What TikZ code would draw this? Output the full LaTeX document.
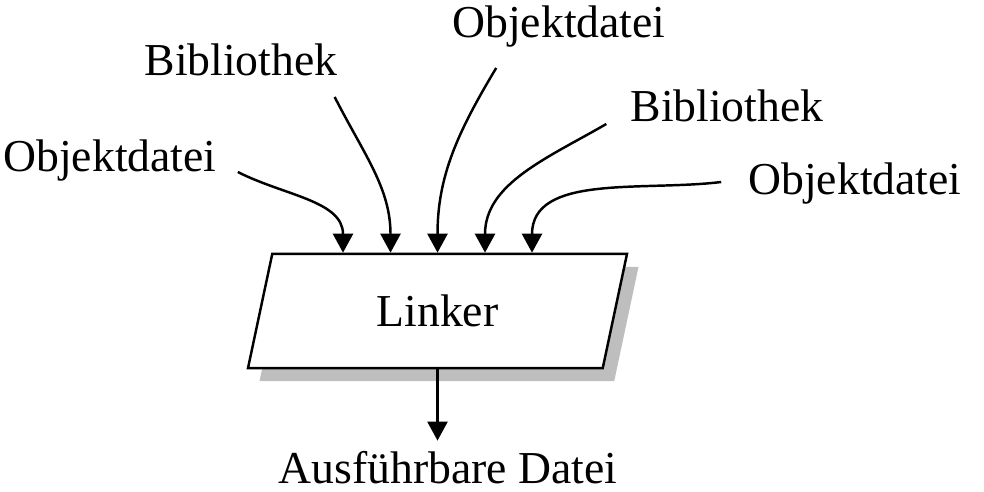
\documentclass[tikz,border=0pt]{standalone}
\usepackage{fontspec}
\setmainfont{Liberation Serif}
\usetikzlibrary{arrows.meta,shapes.geometric,shadows}
\usepackage{xcolor}
\definecolor{shadowgray}{RGB}{190,190,190}

\begin{document}
\begin{tikzpicture}[-{Triangle[width=0.4cm,length=0.38cm]},line width=1.4pt,
    every node/.style={font=\fontsize{26}{31}\selectfont}]
  \tikzstyle{every label}=[anchor=base,inner sep=0pt]
  \tikzstyle{linkerbox}=[trapezium,trapezium left angle=78,trapezium right angle=102,
    trapezium stretches body=true,minimum width=7.58cm,inner xsep=0.2cm,inner ysep=0.82cm,
    draw,fill=white,line width=1.4pt,
    drop shadow={shadow xshift=0.23cm,shadow yshift=-0.26cm,fill=shadowgray,opacity=1}]
  \useasboundingbox (0,0) rectangle (19.68,9.84);

  \node[linkerbox]   (L)   at (8.75,3.62) {Linker};
  \node[every label] (O1)  at (2.20,6.40)  {Objektdatei};
  \node[every label] (B1)  at (4.82,8.32)  {Bibliothek};
  \node[every label] (O2)  at (11.18,9.08) {Objektdatei};
  \node[every label] (B2)  at (14.54,7.40) {Bibliothek};
  \node[every label] (O3)  at (17.10,5.94) {Objektdatei};
  \node[every label,inner sep=0.18cm] (A) at (8.96,0.18) {Ausführbare Datei};

  \coordinate (in1) at ([xshift=-1.89cm]L.north);
  \coordinate (in2) at ([xshift=-0.94cm]L.north);
  \coordinate (in3) at (L.north);
  \coordinate (in4) at ([xshift=0.95cm]L.north);
  \coordinate (in5) at ([xshift=1.89cm]L.north);

  \draw ([xshift=0.40cm]O1.base east) to[out=-27,in=90] (in1);
  \draw ([xshift=-0.08cm,yshift=-0.42cm]B1.base east) to[out=-63,in=90] (in2);
  \draw ([xshift=0.90cm,yshift=-0.60cm]O2.base west) to[out=-121,in=90] (in3);
  \draw ([xshift=-0.46cm,yshift=-0.04cm]B2.base west) to[out=-150,in=90] (in4);
  \draw ([xshift=-0.52cm,yshift=0.26cm]O3.base west) to[out=-173,in=90] (in5);
  \draw (L.south) -- (L.south |- A.north);
\end{tikzpicture}
\end{document}
